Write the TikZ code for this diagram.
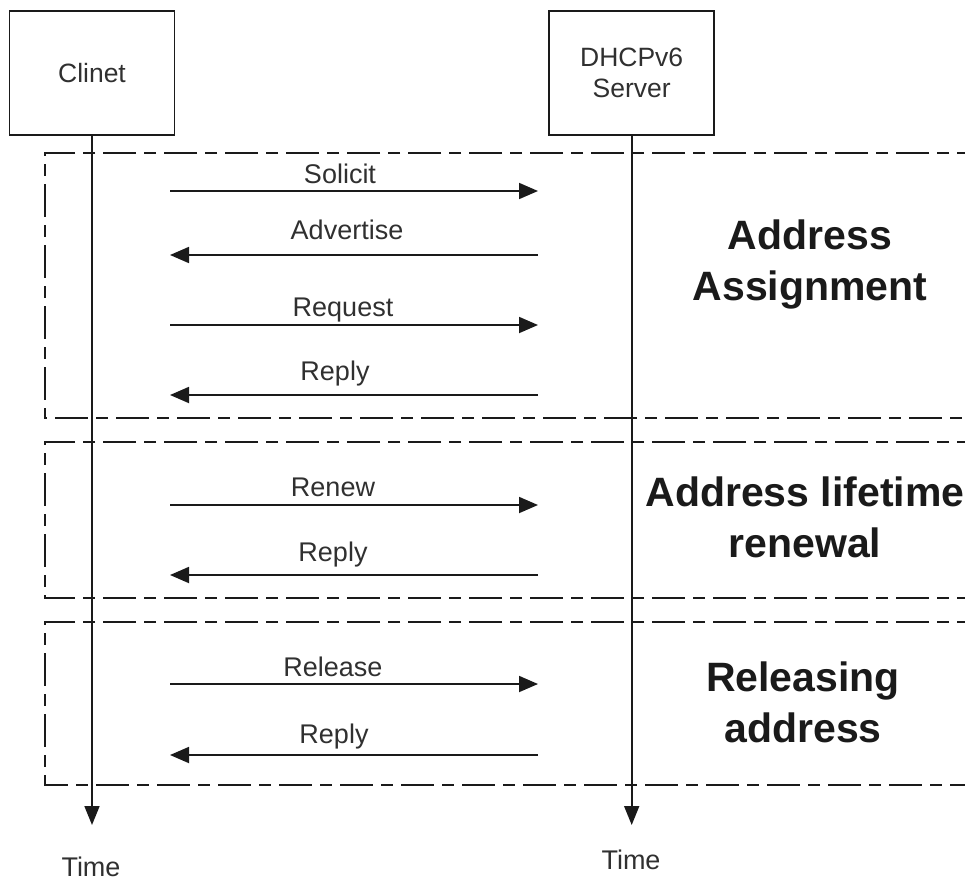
\documentclass[tikz,border=0pt]{standalone}
\usepackage{fontspec}
\setmainfont{Liberation Sans}
\usetikzlibrary{arrows.meta}
\definecolor{ink}{HTML}{1A1A1A}
\definecolor{txt}{HTML}{303030}
\begin{document}
\begin{tikzpicture}[x=1pt,y=-1pt,
  party/.style={draw=ink, line width=1.6pt, minimum width=165pt, minimum height=124pt,
    inner sep=0pt, font=\fontsize{26.5}{31}\selectfont, text=txt, align=center},
  lifeline/.style={draw=ink, line width=1.8pt, -{Triangle[length=19pt,width=15pt]}},
  msg/.style={draw=ink, line width=1.8pt, -{Triangle[length=19pt,width=16pt]}},
  msglabel/.style={anchor=base, font=\fontsize{27}{31}\selectfont, text=txt, inner sep=0pt},
  phase/.style={draw=ink, line width=1.8pt, dash pattern=on 33pt off 8pt on 12pt off 8pt},
  % anchor=base of a two-line title sits on its second line
  phaselabel/.style={font=\fontsize{41}{51}\selectfont\bfseries, text=ink, align=center,
    inner sep=0pt, anchor=base}
]
\useasboundingbox (0,0) rectangle (965,881);
\clip (0,0) rectangle (965,881);

% phase frames, open to the right
\draw[phase] (990,153) -- (45,153) -- (45,418) -- (990,418);
\draw[phase] (990,442) -- (45,442) -- (45,598) -- (990,598);
\draw[phase] (990,622) -- (45,622) -- (45,785) -- (990,785);

% participants
\node[party] (client) at (92,73) {Clinet};
\node[party] (server) at (631.7,73) {DHCPv6\\Server};

% lifelines
\coordinate (cend) at (92,825);
\coordinate (send) at (631.7,825);
\draw[lifeline] (client.south) -- (cend);
\draw[lifeline] (server.south) -- (send);
\node[msglabel] (ctime) at (91,876.5) {Time};
\node[msglabel] (stime) at (631,869) {Time};

% message end points
\foreach \n/\y in {1/191,2/255,3/325,4/395,5/505,6/575,7/684,8/755}{
  \coordinate (c\n) at (170,\y);
  \coordinate (s\n) at (538,\y);
}

% address assignment
\draw[msg] (c1) -- (s1);
\node[msglabel] (solicit) at (340,183) {Solicit};
\draw[msg] (s2) -- (c2);
\node[msglabel] (advertise) at (347,239) {Advertise};
\draw[msg] (c3) -- (s3);
\node[msglabel] (request) at (343,316) {Request};
\draw[msg] (s4) -- (c4);
\node[msglabel] (reply1) at (335,380) {Reply};

% lifetime renewal
\draw[msg] (c5) -- (s5);
\node[msglabel] (renew) at (333,496) {Renew};
\draw[msg] (s6) -- (c6);
\node[msglabel] (reply2) at (333,561) {Reply};

% release
\draw[msg] (c7) -- (s7);
\node[msglabel] (release) at (333,676) {Release};
\draw[msg] (s8) -- (c8);
\node[msglabel] (reply3) at (334,743) {Reply};

% phase titles
\node[phaselabel] (assign) at (810,300) {Address\\Assignment};
\node[phaselabel] (renewal) at (805,557) {Address lifetime\\renewal};
\node[phaselabel] (releasing) at (803,742) {Releasing\\address};
\end{tikzpicture}
\end{document}
